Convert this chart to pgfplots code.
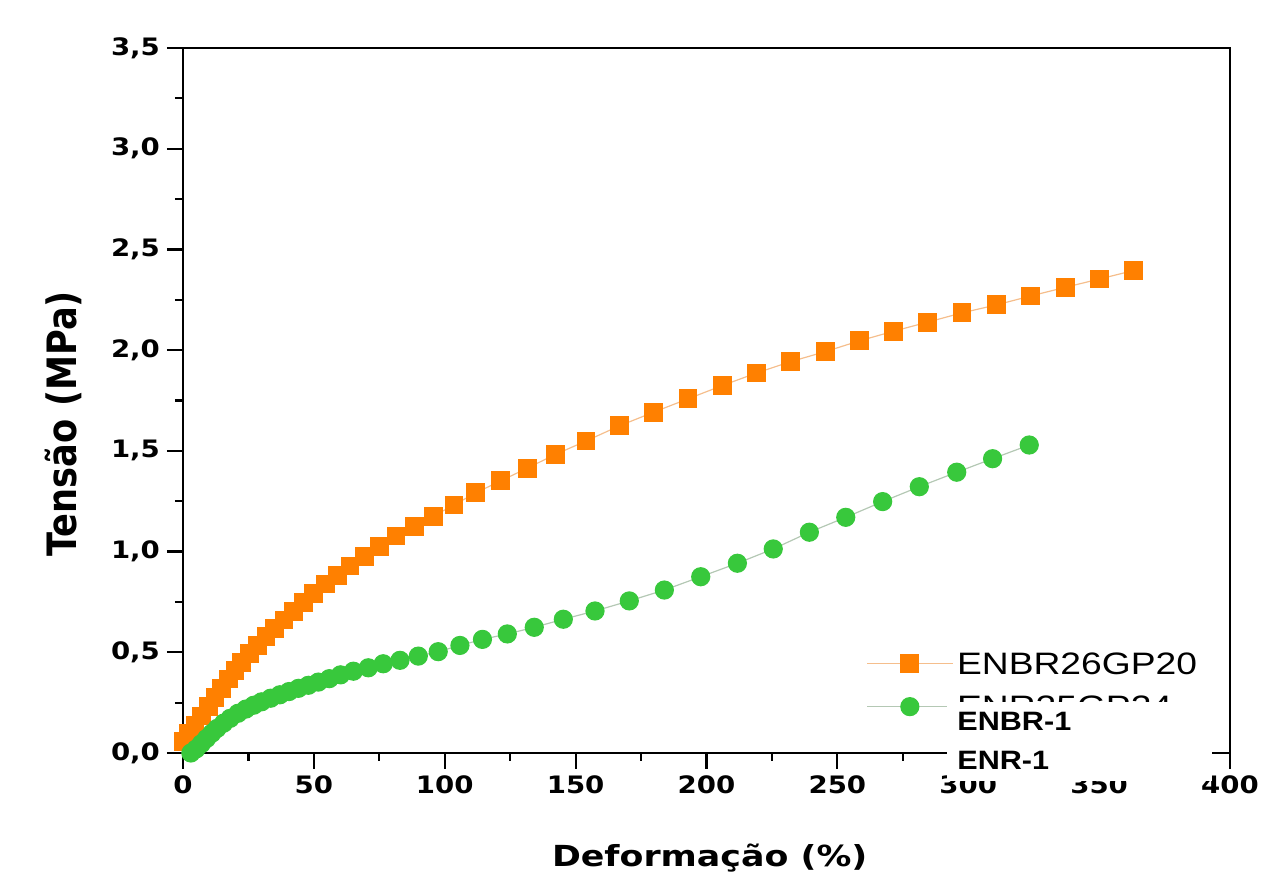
\documentclass[border=0pt]{standalone}
\usepackage{fontspec}
\usepackage{pgfplots}
\pgfplotsset{compat=1.18}
\setmainfont{DejaVu Sans}[FakeStretch=1.2]
\newfontfamily\tickfont{DejaVu Sans}[FakeStretch=1.15]
\newfontfamily\legfont{Liberation Sans}[FakeStretch=1.2]
\newfontfamily\boxfont{Liberation Sans}[FakeStretch=1.15]
\newfontfamily\ylabfont{DejaVu Sans}

\definecolor{myorange}{RGB}{255,128,0}
\definecolor{orangeline}{RGB}{245,190,140}
\definecolor{mygreen}{RGB}{56,200,60}
\definecolor{greenline}{RGB}{180,200,180}

\begin{document}
\begin{tikzpicture}
\begin{axis}[
    scale only axis,
    width=523.5pt, height=352.5pt,
    xmin=0, xmax=400, ymin=0, ymax=3.5,
    xtick={0,50,...,400},
    ytick={0,0.5,1,1.5,2,2.5,3,3.5},
    minor x tick num=1, minor y tick num=1,
    tick align=outside, tick pos=left,
    major tick length=8pt, minor tick length=4pt,
    axis line style={line width=1.1pt},
    tick style={line width=1.1pt, black},
    /pgf/number format/assume math mode=true,
    ticklabel style={font=\tickfont\bfseries\fontsize{12}{14}\selectfont},
    yticklabel style={/pgf/number format/.cd, fixed, fixed zerofill, precision=1, use comma},
    xticklabel style={/pgf/number format/.cd, fixed, precision=0},
    xlabel={Deformação (\%)},
    ylabel={\scalebox{1}[1.15]{Tensão (MPa)}},
    every axis x label/.style={at={(axis description cs:0.503,-0.149)}, anchor=center,
        font=\bfseries\fontsize{14.5}{17}\selectfont},
    every axis y label/.style={at={(axis description cs:-0.114,0.467)}, anchor=center, rotate=90,
        font=\ylabfont\bfseries\fontsize{17.6}{20}\selectfont},
    legend style={at={(axis cs:261,0.52)}, anchor=north west, draw=none, fill=none,
        inner sep=0pt, row sep=6.5pt,
        font=\legfont\fontsize{15.5}{18}\selectfont,
        nodes={inner sep=2pt, text height=11pt, text depth=0pt}},
    legend cell align=left,
    legend image code/.code={\draw[mark repeat=2, mark phase=2] plot coordinates {(0cm,0cm) (0.75cm,0cm) (1.5cm,0cm)};},
]

% ENBR26GP20
\addplot[color=orangeline, line width=0.6pt, mark=square*, mark size=4.4pt,
    mark options={draw=myorange, fill=myorange}] coordinates {
    (0,0.056) (2,0.098) (4.6,0.139) (7.1,0.184) (9.7,0.231) (12.2,0.277)
    (14.8,0.322) (17.3,0.367) (19.9,0.408) (22.4,0.449) (25.3,0.492) (28.4,0.533)
    (31.7,0.577) (35.1,0.619) (38.6,0.660) (42.1,0.703) (46.0,0.746) (50.0,0.793)
    (54.4,0.839) (59.0,0.880) (63.8,0.928) (69.2,0.974) (75.0,1.024) (81.4,1.077)
    (88.3,1.123) (95.6,1.176) (103.5,1.231) (111.9,1.292) (121.4,1.351) (131.5,1.414)
    (142.4,1.483) (154.0,1.549) (166.7,1.624) (179.8,1.692) (192.9,1.758) (206.0,1.824)
    (219.0,1.886) (232.2,1.943) (245.5,1.993) (258.4,2.046) (271.5,2.094) (284.5,2.139)
    (297.6,2.185) (310.9,2.225) (323.9,2.269) (337.1,2.312) (350.1,2.353) (363.1,2.395)
};
\addlegendentry{ENBR26GP20}

% ENR25GP24
\addplot[color=greenline, line width=0.6pt, mark=*, mark size=4.5pt,
    mark options={draw=mygreen, fill=mygreen}] coordinates {
    (3,0.0) (5,0.02) (7,0.046) (9,0.072) (11,0.098) (13,0.122) (15.5,0.148)
    (18,0.172) (21,0.197) (24,0.218) (27,0.237) (30,0.254) (33.5,0.272)
    (37,0.289) (40.5,0.305) (44.1,0.321) (47.9,0.336) (51.7,0.352) (55.9,0.369)
    (60.2,0.388) (65.1,0.406) (70.8,0.423) (76.5,0.443) (82.9,0.460) (89.9,0.481)
    (97.5,0.503) (105.8,0.534) (114.4,0.564) (123.9,0.591) (134.2,0.624) (145.3,0.664)
    (157.4,0.705) (170.5,0.755) (183.9,0.809) (197.8,0.875) (211.8,0.942) (225.5,1.013)
    (239.3,1.096) (253.2,1.170) (267.3,1.248) (281.3,1.322) (295.6,1.394) (309.3,1.461)
    (323.3,1.529)
};
\addlegendentry{ENR25GP24}

\coordinate (sw) at (rel axis cs:0,0);
\coordinate (ne) at (rel axis cs:1,1);
\coordinate (boxA) at (axis cs:291.9,0.253);
\coordinate (boxB) at (axis cs:393.1,-0.139);
\coordinate (t1) at (axis cs:295.7,0.111);
\coordinate (t2) at (axis cs:295.7,-0.0844);
\end{axis}

% pasted label box over the legend
\fill[white] (boxA) rectangle (boxB);
\node[anchor=base west, inner sep=0pt, font=\boxfont\bfseries\fontsize{13.3}{15}\selectfont] at (t1) {ENBR-1};
\node[anchor=base west, inner sep=0pt, font=\boxfont\bfseries\fontsize{13.3}{15}\selectfont] at (t2) {ENR-1};

\pgfresetboundingbox
\path[use as bounding box] ([shift={(-91.5pt,-64pt)}]sw) rectangle ([shift={(22pt,24pt)}]ne);
\end{tikzpicture}
\end{document}
